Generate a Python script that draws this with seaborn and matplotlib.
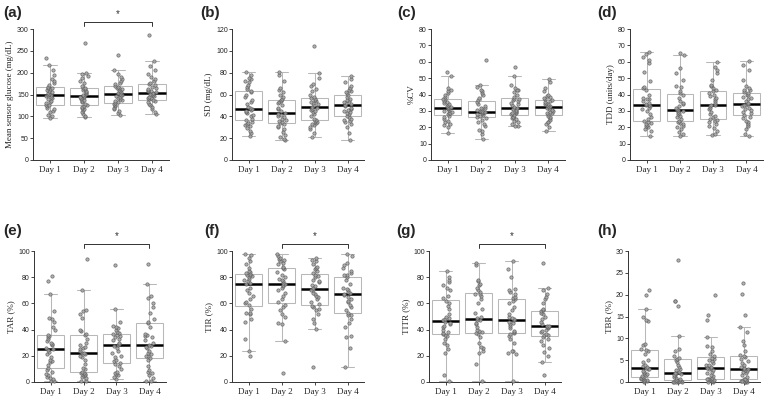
import numpy as np
import pandas as pd
import matplotlib.pyplot as plt
import seaborn as sns

days = ["Day 1", "Day 2", "Day 3", "Day 4"]

# one list per day
mean_glucose = [
    [96, 100, 104, 109, 113, 117, 120, 123, 125, 127, 130, 133, 136, 139, 141, 144, 146, 148, 149, 151, 153, 156, 158, 161, 163, 165, 166, 168, 172, 176, 180, 186, 194, 205, 218, 233],
    [98, 100, 105, 110, 114, 117, 120, 122, 124, 126, 129, 132, 135, 137, 140, 142, 144, 145, 146, 148, 151, 153, 155, 158, 160, 162, 164, 166, 170, 176, 182, 188, 193, 197, 200, 269],
    [103, 108, 112, 116, 120, 123, 126, 128, 130, 132, 135, 138, 140, 142, 144, 147, 149, 150, 152, 154, 156, 158, 160, 162, 164, 166, 168, 170, 173, 177, 181, 185, 190, 197, 206, 240],
    [105, 110, 116, 121, 125, 129, 132, 135, 137, 139, 141, 143, 145, 147, 149, 151, 152, 153, 155, 157, 159, 161, 163, 165, 168, 171, 174, 177, 180, 185, 190, 197, 205, 215, 227, 287],
]
sd = [
    [22, 25, 27, 29, 31, 32, 33, 34, 35, 37, 38, 40, 41, 43, 44, 45, 46, 46.5, 47.5, 49, 51, 53, 55, 58, 60, 62, 63, 65, 67, 69, 71, 72, 74, 75, 78, 80.5],
    [18, 19, 21, 23, 26, 28, 30, 31, 33, 34, 35, 36, 37, 38, 39, 40, 41, 42.5, 43.5, 45, 47, 48, 50, 52, 53, 54, 55, 56, 58, 60, 62, 64, 66, 72, 78, 81],
    [21, 25, 28, 30, 32, 33, 34, 35, 35.5, 36.5, 38, 40, 42, 44, 45, 46, 47, 48, 49, 50, 51, 52, 53, 54, 55, 56, 57, 57.5, 60, 63, 65, 68, 70, 75, 80, 104],
    [18, 25, 30, 33, 35, 36, 37, 38, 39, 40.5, 42, 43, 44, 45, 46, 47, 48, 49.5, 50.5, 51, 52, 53, 54, 55, 56, 58, 59.5, 61, 62, 63, 64, 66, 68, 71, 74, 77],
]
cv = [
    [16.5, 20, 21.5, 22, 23, 24, 25, 26, 27, 28, 28.5, 29, 29.5, 30, 30.5, 31, 31.5, 31.8, 32.2, 32.5, 33, 33.5, 34, 35, 35.5, 36, 37, 37.5, 38.5, 40, 41, 42, 43, 44, 51, 54],
    [13, 16, 17.5, 18.5, 21, 22, 23, 24.5, 25.5, 26.5, 27, 27.5, 28, 28.5, 29, 29.2, 29.4, 29.5, 29.7, 30, 30.5, 31, 31.5, 32, 33, 34.5, 35.5, 36.5, 38, 40, 41, 42, 43, 44.5, 45.5, 61],
    [20.5, 21, 22, 23.5, 24, 25, 25.5, 26, 26.5, 27.5, 28, 28.5, 29, 29.5, 30, 30.5, 31, 31.3, 31.7, 32.5, 33.5, 34, 35, 36, 36.5, 37, 37.5, 38.5, 40, 41.5, 42.5, 43, 44, 46, 51.5, 57],
    [17.5, 20, 22, 23, 23.5, 24.5, 25.5, 26.5, 27, 28, 28.5, 29, 29.5, 30, 30.5, 31, 32, 32.3, 32.7, 33, 33.5, 34, 34.5, 35, 35.5, 36, 36.5, 37.5, 38, 38.5, 39, 40, 42, 44, 47.5, 49.5],
]
tdd = [
    [14.5, 18, 19, 20, 21, 21.5, 22, 22.5, 23, 24, 25, 26, 28, 30, 31, 32, 33, 33.3, 33.7, 34, 35, 36, 37, 37.5, 38, 40, 43, 44, 44.5, 48, 54, 59, 61, 63, 65, 66],
    [14.5, 16, 17, 19, 20, 21, 22, 22.5, 23, 24, 25, 26, 27, 28, 29, 29.5, 30, 30.3, 30.7, 31, 32, 33, 34, 35, 36, 38, 40, 41, 42, 44.5, 45, 49, 53, 56, 64, 65.5],
    [15, 16, 18, 19.5, 21, 22, 23, 24, 24.5, 25, 26, 27, 28, 29.5, 31, 32, 33, 33.3, 33.7, 35, 36, 37, 38, 39, 40, 41, 42, 42.5, 44, 45, 46, 49, 53, 55, 57, 60],
    [14.5, 16, 19, 21, 22, 23, 24, 25.5, 26.5, 27.5, 28.5, 29.5, 30.5, 31, 32, 33, 33.5, 33.8, 34.2, 35, 36, 37, 38, 38.5, 39.5, 40, 41, 41.5, 42.5, 43, 44, 45, 49, 55, 58, 60.5],
]
tar = [
    [0.5, 1, 2, 3, 4, 5, 6, 8, 9.5, 11, 13, 15, 16, 17, 19, 21, 23, 24.5, 25, 26, 28, 29, 30, 31, 33, 34.5, 35, 36, 40, 42, 46, 48, 49, 54, 67, 77, 81],
    [0.5, 1, 3, 4, 5, 5.5, 6, 6.5, 7, 8, 10, 11, 14, 17, 19, 20, 21, 22, 22.5, 24, 25, 26, 27, 28, 30, 33, 35.5, 37, 39, 40, 49, 52, 54, 55, 70, 94],
    [2, 4, 5, 6, 7, 8, 10, 12, 13.5, 14.5, 16, 17, 19, 20, 22, 24, 26, 27.5, 28.5, 29, 30, 32, 33, 34, 35, 36, 36.5, 37.5, 38, 40, 41, 42, 43, 46, 56, 89],
    [0.5, 1, 3, 5, 7, 8, 9.5, 12, 17, 18.5, 19.5, 20, 21, 22, 24, 26, 27, 27.5, 28.5, 30, 32, 34, 35, 36, 37, 42, 45, 46, 48, 53, 57, 60, 64, 66, 75, 90],
]
tir = [
    [20, 23.5, 33, 46, 48, 52, 52.5, 53, 56, 58.5, 60, 61, 63, 66, 68, 70, 72, 74.5, 75.5, 77, 78, 79, 80, 81, 81.5, 82, 82.5, 83, 84, 85, 87, 90, 92, 95, 97, 98],
    [6.5, 31.5, 44, 45, 50, 52, 55, 57, 59, 61, 63, 66, 68, 70, 72, 73, 74, 74.5, 75.5, 77, 78, 79, 80, 82, 84, 86, 87, 88, 90, 91, 92, 93, 94, 95, 96, 97.5],
    [11.5, 40.5, 45, 48, 52, 55, 56, 57, 58, 59.5, 61, 63, 65, 66, 67, 68, 70, 70.5, 71.5, 73, 74, 76, 77, 78, 80, 81, 82, 83, 85, 86, 87, 88, 90, 92, 93, 94.5],
    [11.5, 26, 34, 35, 42, 45, 48, 51, 51.5, 53, 55, 57, 59, 61, 62, 63, 65, 66.5, 67.5, 68, 69, 70, 71, 72, 75, 78, 80, 81.5, 82, 83, 85, 87, 89, 91, 96, 97.5],
]
titr = [
    [0.5, 5, 22, 25, 28, 30, 33, 35, 36, 37, 37.5, 38, 40, 42, 43, 44, 45, 46, 47, 48, 49, 50, 52, 56, 58, 60, 62, 64, 66, 70, 72, 74, 76, 78, 80, 84.5],
    [0.5, 14, 22, 24, 26, 27, 30, 34, 36.5, 37.5, 38, 39, 40, 42, 44, 45, 47, 47.5, 48.5, 50, 53, 56, 60, 63, 66, 67, 67.5, 68.5, 70, 72, 74, 75, 77, 78, 89, 90.5],
    [0.5, 21, 22, 23.5, 24, 30, 33, 35, 36.5, 37.5, 38, 39, 41, 43, 44, 45, 46, 47, 48, 49, 50, 52, 55, 57, 60, 62, 63, 64, 65, 67, 69, 70, 71, 80, 86, 92],
    [5, 15.5, 20, 23, 26, 28, 31, 33, 34.5, 35.5, 36, 37, 38, 39, 40, 41, 42, 42.3, 42.7, 43, 44, 46, 48, 50, 52, 53, 54, 55, 56, 60, 63, 65, 67, 70, 72, 91],
]
tbr = [
    [0.1, 0.2, 0.3, 0.4, 0.5, 0.6, 0.8, 0.9, 1.0, 1.1, 1.3, 1.5, 1.8, 2.0, 2.3, 2.6, 2.9, 3.0, 3.2, 3.4, 3.6, 4.0, 4.5, 5.0, 6.5, 7.0, 7.3, 7.6, 8.5, 8.8, 14.0, 14.2, 14.8, 16.7, 20.0, 21.0],
    [0, 0, 0, 0.1, 0.1, 0.2, 0.2, 0.3, 0.3, 0.4, 0.5, 0.7, 0.9, 1.2, 1.5, 1.7, 1.9, 2.0, 2.1, 2.4, 2.7, 3.0, 3.5, 4.0, 4.5, 5.0, 5.2, 5.4, 6.0, 7.0, 7.5, 10.5, 17.5, 18.5, 18.6, 28.0],
    [0, 0.1, 0.2, 0.3, 0.4, 0.5, 0.6, 0.7, 0.7, 0.8, 1.0, 1.3, 1.7, 2.0, 2.4, 2.8, 3.0, 3.1, 3.3, 3.5, 3.8, 4.0, 4.3, 4.7, 5.0, 5.3, 5.6, 5.9, 6.3, 7.0, 8.0, 8.2, 10.3, 14.3, 15.3, 20.0],
    [0, 0.1, 0.1, 0.2, 0.2, 0.3, 0.3, 0.4, 0.5, 0.6, 0.8, 1.2, 1.5, 2.0, 2.3, 2.6, 2.8, 2.9, 3.0, 3.2, 3.5, 3.8, 4.3, 4.8, 5.3, 5.8, 6.0, 6.1, 7.0, 8.5, 9.5, 11.5, 12.6, 15.3, 20.2, 22.7],
]

panel_labels = ["(a)", "(b)", "(c)", "(d)", "(e)", "(f)", "(g)", "(h)"]
y_labels = ["Mean sensor glucose (mg/dL)", "SD (mg/dL)", "%CV", "TDD (units/day)",
            "TAR (%)", "TIR (%)", "TITR (%)", "TBR (%)"]
y_max = [300, 120, 80, 80, 100, 100, 100, 30]
y_step = [50, 20, 10, 10, 20, 20, 20, 5]
significant = [True, False, False, False, True, True, True, False]  # Day 2 vs Day 4

W, H = 764, 399
# axes boxes in pixels: left, right, top, bottom
boxes = [(33, 169, 29, 160), (232, 364, 29, 160), (431, 565, 29, 160), (630, 763, 29, 160),
         (34, 166, 251, 382), (232, 364, 251, 382), (429, 561, 251, 382), (628, 760, 251, 382)]
label_pos = [(3, 6), (200, 6), (397, 6), (597, 6), (3, 224), (204, 224), (396, 224), (597, 224)]


def main():
    sns.set_style("ticks")
    plt.rcParams["font.family"] = ["Liberation Serif", "DejaVu Serif"]
    np.random.seed(3)

    fig = plt.figure(figsize=(W / 100, H / 100), dpi=100)
    all_data = [mean_glucose, sd, cv, tdd, tar, tir, titr, tbr]

    for i, data in enumerate(all_data):
        l, r, t, b = boxes[i]
        ax = fig.add_axes([l / W, 1 - b / H, (r - l) / W, (b - t) / H])
        df = pd.DataFrame({
            "day": [d for d, vals in zip(days, data) for _ in vals],
            "value": [v for vals in data for v in vals],
        })
        sns.boxplot(data=df, x="day", y="value", ax=ax, whis=1.5, width=0.8,
                    showfliers=False, color="white", linecolor="#b8b8b8", linewidth=0.75,
                    medianprops=dict(color="black", linewidth=1.8))
        sns.stripplot(data=df, x="day", y="value", ax=ax, jitter=0.13, size=2.4,
                      color="#a4a4a4", edgecolor="#5a5a5a", linewidth=0.5, alpha=0.85,
                      clip_on=False)

        ax.set_xlim(-0.5, 3.5)
        ax.set_ylim(0, y_max[i])
        ax.set_yticks(np.arange(0, y_max[i] + 1, y_step[i]))
        ax.set_xlabel("")
        ax.set_ylabel(y_labels[i], fontsize=6.5, labelpad=2)
        ax.tick_params(axis="y", labelsize=5, length=2, width=0.6, pad=1)
        ax.tick_params(axis="x", labelsize=6.5, length=2, width=0.6, pad=2)
        for lab in ax.get_yticklabels():
            lab.set_family("Liberation Sans")
        sns.despine(ax=ax)
        for s in ["left", "bottom"]:
            ax.spines[s].set_linewidth(0.7)
            ax.spines[s].set_color("#333333")

        if significant[i]:
            tr = ax.get_xaxis_transform()
            ax.plot([1, 1, 3, 3], [1.02, 1.055, 1.055, 1.02], transform=tr,
                    color="#333333", linewidth=0.7, clip_on=False)
            ax.text(2, 1.075, "*", transform=tr, ha="center", va="bottom",
                    fontsize=7, family="Liberation Sans", color="#333333")

        lx, ly = label_pos[i]
        fig.text(lx / W, 1 - ly / H, panel_labels[i], ha="left", va="top",
                 fontsize=11, fontweight="bold", family="Liberation Sans")

    fig.savefig("out.png", dpi=100)


if __name__ == "__main__":
    main()
